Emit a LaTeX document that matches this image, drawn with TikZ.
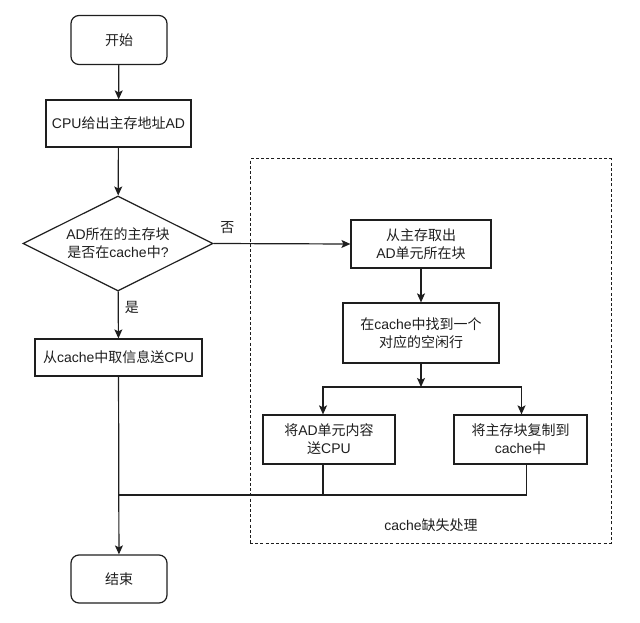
\documentclass[tikz,border=0pt]{standalone}
\usepackage{fontspec}
\setmainfont{Liberation Sans}
\newfontfamily\cjk{Noto Sans CJK SC}
\newcommand{\C}[1]{{\cjk #1}}
\usetikzlibrary{shapes.geometric,arrows.meta,calc}
\definecolor{ink}{HTML}{1E1E1E}
\tikzset{
  base/.style={draw=ink, line width=1.2pt, text=ink, font=\fontsize{14}{18}\selectfont, align=center, inner sep=0pt},
  term/.style={base, rounded corners=8pt, minimum width=96pt, minimum height=49pt},
  proc/.style={base, rectangle},
  dec/.style={base, diamond, aspect=2, minimum width=190pt, minimum height=95pt},
  arr/.style={draw=ink, line width=1.2pt, -{Stealth[length=9pt,width=8pt,inset=2pt]}},
  ln/.style={draw=ink, line width=1.2pt},
  lbl/.style={text=ink, font=\fontsize{14}{18}\selectfont, inner sep=0pt},
  group/.style={draw=ink, line width=1pt, dash pattern=on 3pt off 2.2pt}
}
\begin{document}
\begin{tikzpicture}[x=1pt,y=-1pt]
\useasboundingbox (0,0) rectangle (640,623);
% dashed group
\node[group, minimum width=361pt, minimum height=384pt, inner sep=0pt] (miss) at (430.5,351) {};
\node[lbl] (misslbl) at (431,525) {cache\C{缺失处理}};
% main column
\node[term] (start) at (119,40) {\C{开始}};
\node[proc, minimum width=145pt, minimum height=47pt] (cpu) at (118.5,123.5) {CPU\C{给出主存地址}AD};
\node[dec] (dec) at (118,243.5) {AD\C{所在的主存块}\\\C{是否在}cache\C{中}?};
\node[proc, minimum width=167pt, minimum height=37pt] (yes) at (118.5,357.5) {\C{从}cache\C{中取信息送}CPU};
\node[term, minimum height=48pt] (end) at (119,579) {\C{结束}};
% miss branch
\node[proc, minimum width=140pt, minimum height=48pt] (b1) at (421,244) {\C{从主存取出}\\AD\C{单元所在块}};
\node[proc, minimum width=156pt, minimum height=60pt] (b2) at (421,333) {\C{在}cache\C{中找到一个}\\\C{对应的空闲行}};
\node[proc, minimum width=132pt, minimum height=49pt] (b3) at (329,439.5) {\C{将}AD\C{单元内容}\\\C{送}CPU};
\node[proc, minimum width=133pt, minimum height=49pt] (b4) at (520.5,439.5) {\C{将主存块复制到}\\cache\C{中}};
\coordinate (split) at (421,387);
\coordinate (merge) at (119,495);
% connectors
\draw[arr] (start) -- (cpu);
\draw[arr] (cpu) -- (dec);
\draw[arr] (dec) -- node[lbl, pos=0.35, right=6pt] (yeslbl) {\C{是}} (yes);
\draw[arr] (dec.east) -- node[lbl, pos=0.1, above=9pt] (nolbl) {\C{否}} (b1.west);
\draw[arr] (yes) -- (end);
\draw[arr] (b1) -- (b2);
\draw[arr] (b2) -- (split);
\draw[arr] (split) -| ([xshift=-6pt]b3.north);
\draw[arr] (split) -| ([xshift=1pt]b4.north);
\draw[ln] ([xshift=-6pt]b3.south) -- ([xshift=-6pt]b3.south |- merge);
\draw[ln] ([xshift=6pt]b4.south) |- (merge);
\end{tikzpicture}
\end{document}
